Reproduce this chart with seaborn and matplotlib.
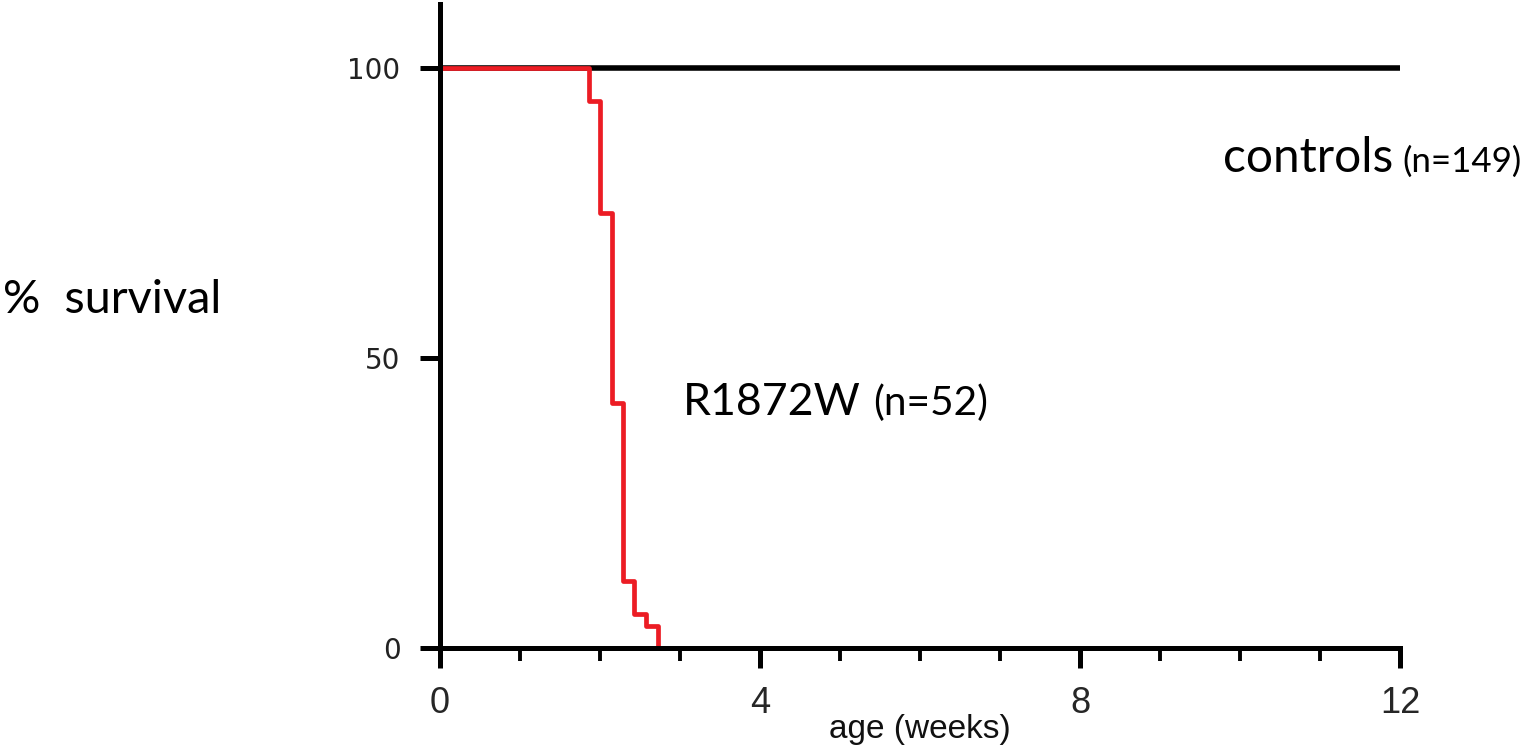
import matplotlib
matplotlib.use("Agg")
import matplotlib.pyplot as plt
import seaborn as sns
import pandas as pd
from matplotlib import font_manager as fm

# ---------------- data ----------------
control_weeks = [0, 12]
control_survival = [100, 100]

mutant_weeks = [0, 1.86, 2.0, 2.15, 2.29, 2.43, 2.58, 2.72]
mutant_survival = [100, 94.2, 75.0, 42.3, 11.5, 5.8, 3.8, 0]

x_major_ticks = [0, 4, 8, 12]
x_minor_ticks = [1, 2, 3, 5, 6, 7, 9, 10, 11]
x_tick_labels = ["0", "4", "8", "12"]
y_ticks = [0, 50, 100]
y_tick_labels = ["0", "50", "100"]

mutant_name = "R1872W"
mutant_n = "(n=52)"
control_name = "controls"
control_n = "(n=149)"
x_title = "age (weeks)"
y_title = "%  survival"

# ---------------- style ----------------
sns.set_theme(style="white")
plt.rcParams["font.family"] = ["DejaVu Sans"]

names = {f.name for f in fm.fontManager.ttflist}
narrow = "Liberation Sans Narrow" if "Liberation Sans Narrow" in names else "Liberation Sans"
label_font = "Lato" if "Lato" in names else "DejaVu Sans"

W, H = 1527, 746
fig = plt.figure(figsize=(W / 100, H / 100), dpi=100)
ax = fig.add_axes([440 / W, 1 - 648 / H, 960 / W, 644 / H])

ctrl_df = pd.DataFrame({"weeks": control_weeks, "survival": control_survival})
mut_df = pd.DataFrame({"weeks": mutant_weeks, "survival": mutant_survival})

sns.lineplot(data=ctrl_df, x="weeks", y="survival", color="black", lw=4.0,
             estimator=None, ax=ax, solid_capstyle="butt")
sns.lineplot(data=mut_df, x="weeks", y="survival", color="#ec1c24", lw=3.4,
             estimator=None, drawstyle="steps-post", ax=ax, solid_capstyle="butt")

ax.set_xlim(0, 12)
ax.set_ylim(0, 111)

for s in ["top", "right"]:
    ax.spines[s].set_visible(False)
for s in ["left", "bottom"]:
    ax.spines[s].set_color("black")
    ax.spines[s].set_linewidth(3.6)
    ax.spines[s].set_capstyle("projecting")

ax.set_xticks(x_major_ticks)
ax.set_xticklabels(x_tick_labels, family=[narrow, "DejaVu Sans"], fontsize=26)
ax.set_xticks(x_minor_ticks, minor=True)
ax.set_yticks(y_ticks)
ax.set_yticklabels(y_tick_labels, fontsize=20, color="#222222")

ax.tick_params(axis="x", which="major", length=14.4, width=3.6, direction="out",
               pad=13, color="black", bottom=True)
ax.tick_params(axis="x", which="minor", length=9, width=2.8, direction="out",
               color="black", bottom=True)
ax.tick_params(axis="y", which="major", length=14.4, width=3.6, direction="out",
               pad=14, color="black", left=True)

ax.set_xlabel(x_title, family=[narrow, "DejaVu Sans"], fontsize=25, color="#111111")
ax.xaxis.label.set_va("baseline")
ax.xaxis.set_label_coords(0.5, -(738 - 648) / 644)

ax.set_ylabel(y_title, family=label_font, fontsize=34, rotation=0,
              ha="left", va="baseline", color="black")
ax.yaxis.set_label_coords((3 - 440) / 960, (648 - 313) / 644)


def fit(t, target_px):
    fig.canvas.draw()
    w = t.get_window_extent().width
    t.set_fontsize(t.get_fontsize() * target_px / w)


def after(t, gap_px):
    fig.canvas.draw()
    bb = t.get_window_extent()
    return ax.transData.inverted().transform((bb.x1 + gap_px, bb.y0))[0]


fit(ax.yaxis.label, 219)
fit(ax.xaxis.label, 182)

t1 = ax.text(3.03, 40.2, mutant_name, family=label_font, fontsize=34,
             va="baseline", ha="left", color="black")
fit(t1, 178)
t2 = ax.text(after(t1, 13), 40.2, mutant_n, family=label_font, fontsize=27,
             va="baseline", ha="left", color="black")
fit(t2, 115)

t3 = ax.text(9.79, 82.0, control_name, family=label_font, fontsize=34,
             va="baseline", ha="left", color="black")
fit(t3, 171)
t4 = ax.text(after(t3, 9), 82.0, control_n, family=label_font, fontsize=27,
             va="baseline", ha="left", color="black", clip_on=False)
fit(t4, 119)

fig.savefig("out.png", dpi=100, facecolor="white")
